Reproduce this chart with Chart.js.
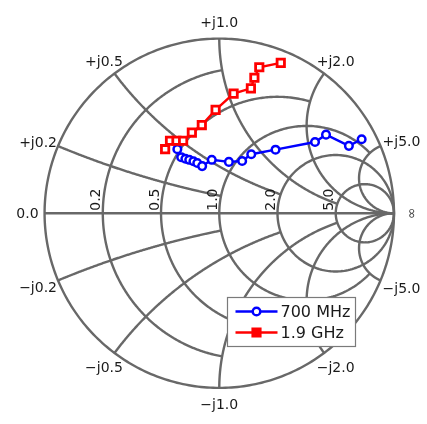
<!DOCTYPE html>
<html>
<head>
<meta charset="utf-8">
<title>Smith chart</title>
<script src="https://cdn.jsdelivr.net/npm/chart.js@4.4.0/dist/chart.umd.min.js"></script>
<style>
    html, body { margin: 0; padding: 0; background: #fff; }
    canvas { display: block; }
</style>
</head>
<body>
<canvas id="smith-chart" width="427" height="424"></canvas>
<script>
// ─── Data ──────────────────────────────────────────────────

const seriesNames = ['700 MHz', '1.9 GHz'];

const gamma700Re = [-0.240, -0.218, -0.194, -0.172, -0.148, -0.126, -0.098, -0.043,
                    0.055, 0.131, 0.183, 0.322, 0.548, 0.611, 0.742, 0.815];
const gamma700Im = [0.367, 0.321, 0.312, 0.306, 0.298, 0.288, 0.270, 0.306,
                    0.294, 0.299, 0.338, 0.364, 0.408, 0.450, 0.386, 0.424];

const gamma1900Re = [-0.310, -0.282, -0.245, -0.207, -0.157, -0.100, -0.021, 0.082,
                     0.181, 0.201, 0.229, 0.352];
const gamma1900Im = [0.367, 0.415, 0.415, 0.415, 0.462, 0.505, 0.592, 0.685,
                     0.715, 0.776, 0.836, 0.861];

// Grid: normalised resistance circles and reactance arcs
const resistanceTicks = [0.2, 0.5, 1, 2, 5];
const resistanceLabels = ['0.2', '0.5', '1.0', '2.0', '5.0'];
const resistanceStop = [1, 2, 5, Infinity, Infinity];   // |x| where each circle ends

const reactanceTicks = [0.2, 0.5, 1, 2, 5];
const reactanceLabels = ['0.2', '0.5', '1.0', '2.0', '5.0'];
const reactanceStop = [1, 2, 5, Infinity, Infinity];    // r where each arc ends

// ─── Layout ────────────────────────────────────────────────
const UNIT_PX = 181.5;
const CENTER_X = 219.5;
const CENTER_Y = 213.3;
const W = 427, H = 424;

const GRID_COLOR = '#686868';
const TEXT_COLOR = '#1a1a1a';
const TICK_FONT = '14px "DejaVu Sans"';
const LEGEND_FONT = '16px "DejaVu Sans"';

// label placement relative to the point where the arc meets the outer circle
const reactanceLabelPos = {
    '0.2': { up: { dx: -1, dy: 1, align: 'right' },   down: { dx: -1, dy: 12, align: 'right' } },
    '0.5': { up: { dx: -10.5, dy: -8, align: 'center' }, down: { dx: -10.5, dy: 19.5, align: 'center' } },
    '1.0': { up: { dx: 0, dy: -12, align: 'center' }, down: { dx: 0, dy: 21, align: 'center' } },
    '2.0': { up: { dx: 11.5, dy: -8, align: 'center' }, down: { dx: 11.5, dy: 19.5, align: 'center' } },
    '5.0': { up: { dx: 2, dy: 0, align: 'left' },   down: { dx: 2, dy: 13, align: 'left' } }
};

function toGamma(r, x) {
    const d = (r + 1) * (r + 1) + x * x;
    return { x: (r * r + x * x - 1) / d, y: 2 * x / d };
}

function strokeCurve(ctx, sx, sy, pts) {
    ctx.beginPath();
    pts.forEach((p, i) => {
        const px = sx.getPixelForValue(p.x);
        const py = sy.getPixelForValue(p.y);
        if (i === 0) ctx.moveTo(px, py); else ctx.lineTo(px, py);
    });
    ctx.stroke();
}

function resistanceCurve(r, xStop) {
    const a = Math.atan(xStop);
    const pts = [];
    for (let i = 0; i <= 360; i++) {
        const t = -a + (2 * a * i) / 360;
        pts.push(toGamma(r, Math.tan(t)));
    }
    return pts;
}

function reactanceCurve(x, rStop) {
    const a = Math.atan(rStop);
    const pts = [];
    for (let i = 0; i <= 240; i++) {
        pts.push(toGamma(Math.tan((a * i) / 240), x));
    }
    return pts;
}

const smithGrid = {
    id: 'smithGrid',
    beforeDatasetsDraw(chart) {
        const { ctx, scales: { x: sx, y: sy } } = chart;
        ctx.save();
        ctx.strokeStyle = GRID_COLOR;
        ctx.lineWidth = 2.4;
        ctx.lineJoin = 'round';

        resistanceTicks.forEach((r, i) => strokeCurve(ctx, sx, sy, resistanceCurve(r, resistanceStop[i])));
        reactanceTicks.forEach((x, i) => {
            strokeCurve(ctx, sx, sy, reactanceCurve(x, reactanceStop[i]));
            strokeCurve(ctx, sx, sy, reactanceCurve(-x, reactanceStop[i]));
        });
        // outer circle and real axis
        strokeCurve(ctx, sx, sy, resistanceCurve(0, Infinity));
        strokeCurve(ctx, sx, sy, [{ x: -1, y: 0 }, { x: 1, y: 0 }]);
        ctx.restore();
    },
    afterDatasetsDraw(chart) {
        const { ctx, scales: { x: sx, y: sy } } = chart;
        ctx.save();
        ctx.fillStyle = TEXT_COLOR;
        ctx.font = TICK_FONT;

        // resistance labels, rotated along the real axis
        resistanceTicks.forEach((r, i) => {
            const g = toGamma(r, 0);
            ctx.save();
            ctx.translate(sx.getPixelForValue(g.x) - 2.5, sy.getPixelForValue(0) - 2.5);
            ctx.rotate(-Math.PI / 2);
            ctx.textAlign = 'left';
            ctx.textBaseline = 'alphabetic';
            ctx.fillText(resistanceLabels[i], 0, 0);
            ctx.restore();
        });

        // reactance labels outside the rim
        reactanceTicks.forEach((x, i) => {
            const lbl = reactanceLabels[i];
            [1, -1].forEach(sign => {
                const g = toGamma(0, sign * x);
                const pos = reactanceLabelPos[lbl][sign > 0 ? 'up' : 'down'];
                ctx.textAlign = pos.align;
                ctx.textBaseline = 'alphabetic';
                ctx.fillText((sign > 0 ? '+j' : '\u2212j') + lbl,
                    sx.getPixelForValue(g.x) + pos.dx, sy.getPixelForValue(g.y) + pos.dy);
            });
        });

        ctx.textBaseline = 'middle';
        ctx.textAlign = 'right';
        ctx.fillText('0.0', sx.getPixelForValue(-1) - 6, sy.getPixelForValue(0) + 1);

        ctx.save();
        ctx.translate(sx.getPixelForValue(1) + 18, sy.getPixelForValue(0));
        ctx.rotate(-Math.PI / 2);
        ctx.textAlign = 'center';
        ctx.font = '14px "DejaVu Sans"';
        ctx.fillStyle = '#444';
        ctx.fillText('\u221e', 0, 0);
        ctx.restore();
        ctx.restore();
    }
};

// legend box drawn inside the lower part of the chart
const boxLegend = {
    id: 'boxLegend',
    afterDraw(chart) {
        const { ctx } = chart;
        const box = { x: 227.5, y: 297.5, w: 128, h: 49 };
        ctx.save();
        ctx.fillStyle = '#fff';
        ctx.strokeStyle = '#7a7a7a';
        ctx.lineWidth = 1.2;
        ctx.fillRect(box.x, box.y, box.w, box.h);
        ctx.strokeRect(box.x, box.y, box.w, box.h);

        chart.data.datasets.forEach((ds, i) => {
            const yRow = box.y + 14 + i * 21;
            ctx.strokeStyle = ds.borderColor;
            ctx.lineWidth = ds.borderWidth;
            ctx.beginPath();
            ctx.moveTo(box.x + 8, yRow);
            ctx.lineTo(box.x + 50, yRow);
            ctx.stroke();

            ctx.fillStyle = ds.pointStyle === 'rect' ? ds.borderColor : '#fff';
            ctx.lineWidth = ds.pointBorderWidth;
            Chart.helpers.drawPoint(ctx, {
                pointStyle: ds.pointStyle,
                rotation: 0,
                radius: ds.pointRadius,
                borderWidth: ds.pointBorderWidth
            }, box.x + 29, yRow);

            ctx.fillStyle = TEXT_COLOR;
            ctx.font = LEGEND_FONT;
            ctx.textAlign = 'left';
            ctx.textBaseline = 'middle';
            ctx.fillText(ds.label, box.x + 53, yRow + 1);
        });
        ctx.restore();
    }
};

function toPoints(re, im) {
    return re.map((u, i) => ({ x: u, y: im[i] }));
}

new Chart(document.getElementById('smith-chart'), {
    type: 'scatter',
    data: {
        datasets: [
            {
                label: seriesNames[0],
                data: toPoints(gamma700Re, gamma700Im),
                showLine: true,
                borderColor: '#0000ff',
                borderWidth: 2.4,
                pointStyle: 'circle',
                pointRadius: 3.8,
                pointBorderWidth: 2.5,
                pointBackgroundColor: '#fff',
                order: 1
            },
            {
                label: seriesNames[1],
                data: toPoints(gamma1900Re, gamma1900Im),
                showLine: true,
                borderColor: '#ff0000',
                borderWidth: 2.4,
                pointStyle: 'rect',
                pointRadius: 5.2,
                pointBorderWidth: 2.8,
                pointBackgroundColor: '#fff',
                order: 0
            }
        ]
    },
    options: {
        responsive: false,
        animation: false,
        layout: { padding: 0 },
        plugins: {
            legend: { display: false },
            tooltip: { enabled: false }
        },
        scales: {
            x: {
                type: 'linear',
                min: -CENTER_X / UNIT_PX,
                max: (W - CENTER_X) / UNIT_PX,
                display: false
            },
            y: {
                type: 'linear',
                min: -(H - CENTER_Y) / UNIT_PX,
                max: CENTER_Y / UNIT_PX,
                display: false
            }
        }
    },
    plugins: [smithGrid, boxLegend]
});
</script>
</body>
</html>
